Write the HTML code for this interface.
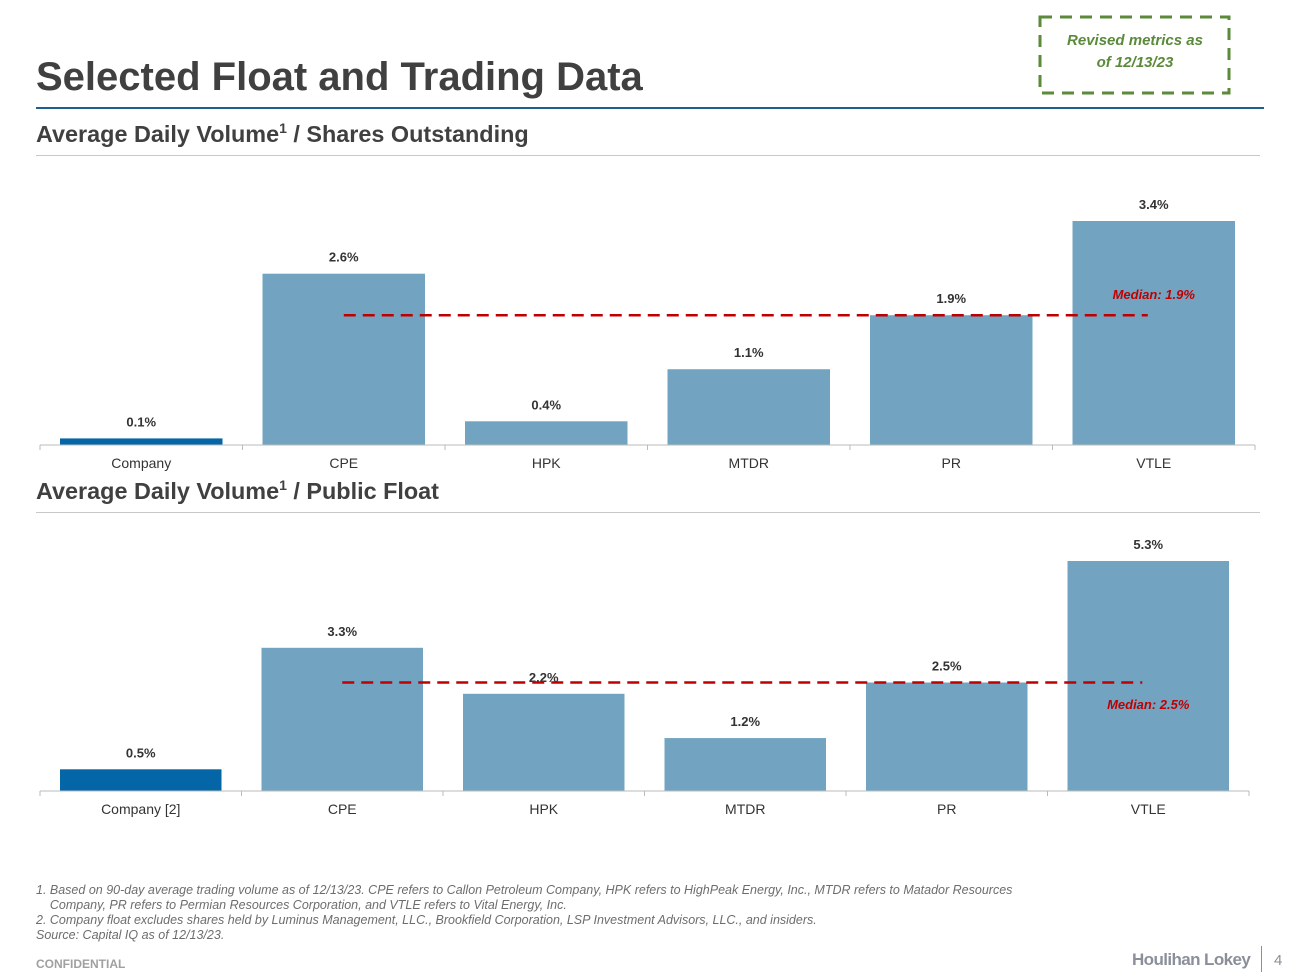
<!DOCTYPE html>
<html><head><meta charset="utf-8"><style>
body{margin:0;width:1300px;height:975px;background:#fff;font-family:"Liberation Sans",Arial,sans-serif;position:relative;overflow:hidden}
.abs{position:absolute}
h1{position:absolute;left:36px;top:55px;margin:0;font-size:40px;color:#404040;font-weight:bold}
.sub{font-size:23.4px;font-weight:bold;color:#404040}
.fn{left:36px;top:883px;font-size:12.5px;font-style:italic;color:#6d6d6d;line-height:15px}
</style></head><body>
<h1>Selected Float and Trading Data</h1>
<svg class="abs" style="left:1038px;top:15px" width="194" height="80"><rect x="2" y="2" width="189" height="76" fill="none" stroke="#5a8a3a" stroke-width="3" stroke-dasharray="12,8"/></svg>
<div class="abs" style="left:1040px;top:30px;width:190px;color:#5a8a3a;font-style:italic;font-weight:bold;font-size:15px;text-align:center;line-height:22px">Revised metrics as<br>of 12/13/23</div>
<div class="abs" style="left:36px;top:107px;width:1228px;height:2px;background:#1f5f8f"></div>
<div class="abs sub" style="left:36px;top:120px">Average Daily Volume<sup style="font-size:14px">1</sup> / Shares Outstanding</div>
<div class="abs" style="left:36px;top:155px;width:1224px;height:1px;background:#c8c8c8"></div>
<div class="abs sub" style="left:36px;top:477px">Average Daily Volume<sup style="font-size:14px">1</sup> / Public Float</div>
<div class="abs" style="left:36px;top:512px;width:1224px;height:1px;background:#c8c8c8"></div>
<svg id="c" class="abs" style="left:0;top:0" width="1300" height="975"></svg>
<div class="abs fn">1. Based on 90-day average trading volume as of 12/13/23. CPE refers to Callon Petroleum Company, HPK refers to HighPeak Energy, Inc., MTDR refers to Matador Resources<br>&nbsp;&nbsp;&nbsp;&nbsp;Company, PR refers to Permian Resources Corporation, and VTLE refers to Vital Energy, Inc.<br>2. Company float excludes shares held by Luminus Management, LLC., Brookfield Corporation, LSP Investment Advisors, LLC., and insiders.<br>Source: Capital IQ as of 12/13/23.</div>
<div class="abs" style="left:36px;top:957px;font-size:12px;font-weight:bold;color:#a0a0a0">CONFIDENTIAL</div>
<div class="abs" style="left:1132px;top:950px;font-size:17px;font-weight:bold;color:#8a8f9a;letter-spacing:-0.6px">Houlihan Lokey</div>
<div class="abs" style="left:1261px;top:946px;width:1px;height:26px;background:#8a8f9a"></div>
<div class="abs" style="left:1274px;top:952px;font-size:15px;color:#8a8f9a">4</div>
<script>
const cats1=["Company","CPE","HPK","MTDR","PR","VTLE"];
const vals1=[0.1,2.6,0.36,1.15,1.97,3.4];
const labels1=["0.1%","2.6%","0.4%","1.1%","1.9%","3.4%"];
const median1=1.97;
const cats2=["Company [2]","CPE","HPK","MTDR","PR","VTLE"];
const vals2=[0.5,3.3,2.24,1.22,2.5,5.3];
const labels2=["0.5%","3.3%","2.2%","1.2%","2.5%","5.3%"];
const median2=2.5;
const svg=document.getElementById('c');const NS='http://www.w3.org/2000/svg';
function mk(t,a,txt){const e=document.createElementNS(NS,t);for(const k in a)e.setAttribute(k,a[k]);if(txt!=null)e.textContent=txt;svg.appendChild(e);return e;}
function chart(id,cats,vals,labels,med,x0,x1,base,maxV,maxH,medLabel,medLabelY){
 const cw=(x1-x0)/cats.length;const y=v=>base-v/maxV*maxH;
 cats.forEach((c,i)=>{
  const bx=x0+i*cw+20,bw=cw-40;
  const r=mk('rect',{x:bx,y:y(vals[i]),width:bw,height:base-y(vals[i]),fill:i==0?'#0466a6':'#72a4c2'});
  
  
  const t=mk('text',{x:bx+bw/2,y:y(vals[i])-12,'text-anchor':'middle','font-size':13,'font-weight':'bold',fill:'#333'},labels[i]);
  
  
  const cl=mk('text',{x:bx+bw/2,y:base+23,'text-anchor':'middle','font-size':14,fill:'#333'},c);
  
  
  const tk=mk('line',{x1:x0+i*cw,x2:x0+i*cw,y1:base,y2:base+5,stroke:'#bbb'});
  
  
 });
 const ax=mk('line',{x1:x0,x2:x1,y1:base,y2:base,stroke:'#bbb'});
 
 
 mk('line',{x1:x1,x2:x1,y1:base,y2:base+5,stroke:'#bbb'});
 const ml=mk('line',{x1:x0+1.5*cw,x2:x0+5.5*cw-6,y1:y(med),y2:y(med),stroke:'#c00000','stroke-width':2.5,'stroke-dasharray':'12,7'});
 
 
 const mt=mk('text',{x:x0+5.5*cw,y:medLabelY,'text-anchor':'middle','font-size':13,'font-weight':'bold','font-style':'italic',fill:'#c00000'},medLabel);
 
 
}
chart('chart1',cats1,vals1,labels1,median1,40,1255,445,3.4,224,'Median: 1.9%',299);
chart('chart2',cats2,vals2,labels2,median2,40,1249,791,5.3,230,'Median: 2.5%',709);
</script>
</body></html>
